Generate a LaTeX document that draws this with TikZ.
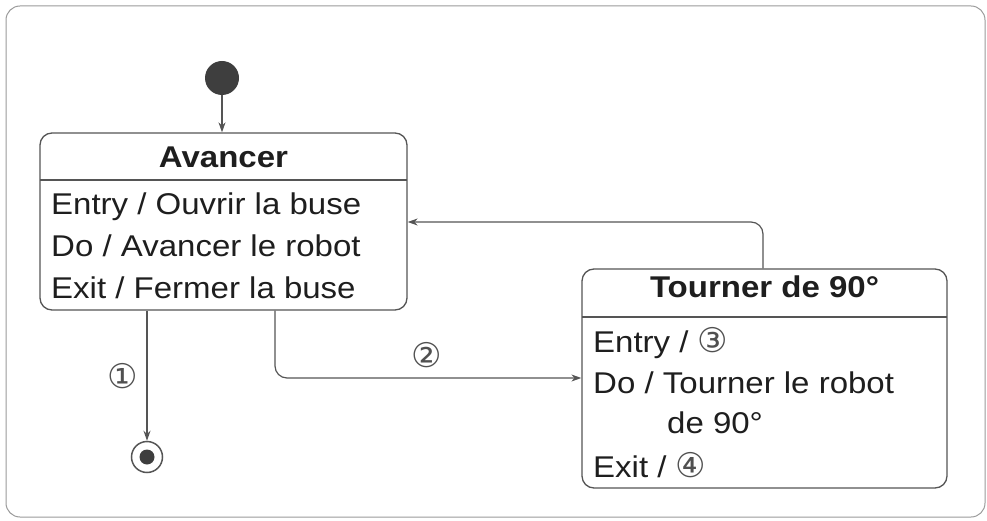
\documentclass[tikz,border=0pt]{standalone}
\usepackage{fontspec}
\setmainfont{Liberation Sans}[FakeStretch=1.1]
\newfontfamily\symfont{DejaVu Sans}
\usetikzlibrary{arrows.meta}
\definecolor{linec}{HTML}{555555}
\definecolor{textc}{HTML}{1E1E1E}
\definecolor{framec}{HTML}{9A9A9A}
\definecolor{dotc}{HTML}{3E3E3E}
\definecolor{numc}{HTML}{505050}
\newcommand{\circnum}[1]{{\symfont\fontsize{34}{36}\selectfont\color{numc}#1}}
\begin{document}
\begin{tikzpicture}[x=1pt,y=-1pt,
  framebox/.style={draw=framec, line width=1pt, rounded corners=14pt},
  state/.style={draw=linec, line width=1.3pt, rounded corners=12pt, rectangle, inner sep=0pt},
  sep/.style={draw=linec, line width=1.2pt},
  txt/.style={anchor=base west, inner sep=0pt, text=textc, font=\fontsize{30}{36}\selectfont},
  ttl/.style={anchor=base, inner sep=0pt, text=textc, font=\fontsize{30}{36}\selectfont\bfseries},
  num/.style={inner sep=0pt, text=numc, font=\symfont\fontsize{34}{36}\selectfont},
  conn/.style={draw=linec, line width=1.2pt, -{Stealth[length=10pt,width=7pt]}},
  initst/.style={circle, fill=dotc, minimum size=34pt, inner sep=0pt},
  finst/.style={circle, draw=linec, line width=1.5pt, minimum size=31pt, inner sep=0pt},
  findot/.style={circle, fill=dotc, minimum size=15pt, inner sep=0pt}
]
\useasboundingbox (0,0) rectangle (987,521);
\draw[framebox] (6,6) rectangle (985,517);

% Avancer state
\node[state, minimum width=367pt, minimum height=177pt] (avancer) at (223.5,221.5) {};
\draw[sep] (40,180) -- (407,180);
\node[ttl] (avt) at (223.5,168) {Avancer};
\node[txt] (av1) at (51,215) {Entry / Ouvrir la buse};
\node[txt] (av2) at (51,257) {Do / Avancer le robot};
\node[txt] (av3) at (51,298) {Exit / Fermer la buse};

% Tourner state
\node[state, minimum width=365pt, minimum height=219pt] (tourner) at (764.5,378.5) {};
\draw[sep] (582,317) -- (947,317);
\node[ttl] (tot) at (764.5,297) {Tourner de 90°};
\node[txt] (to1) at (593,352) {Entry / \circnum{③}};
\node[txt] (to2) at (593,393) {Do / Tourner le robot};
\node[txt] (to3) at (667,433) {de 90°};
\node[txt] (to4) at (593,477) {Exit / \circnum{④}};

% initial and final states
\node[initst] (init) at (222,78) {};
\node[finst] (fin) at (147,457) {};
\node[findot] (fdot) at (fin) {};

% connectors
\draw[conn] (init.south) -- (init |- avancer.north);
\draw[conn] (avancer.south -| fin) -- (fin.north);
\coordinate (k2) at (275,378);
\draw[conn, rounded corners=12pt] (avancer.south -| k2) -- (k2) -- (tourner.west |- k2);
\coordinate (k3) at (763,222);
\draw[conn, rounded corners=12pt] (tourner.north -| k3) -- (k3) -- (avancer.east |- k3);

% labels
\node[num] (l1) at (123,376) {①};
\node[num] (l2) at (427,355) {②};
\end{tikzpicture}
\end{document}
